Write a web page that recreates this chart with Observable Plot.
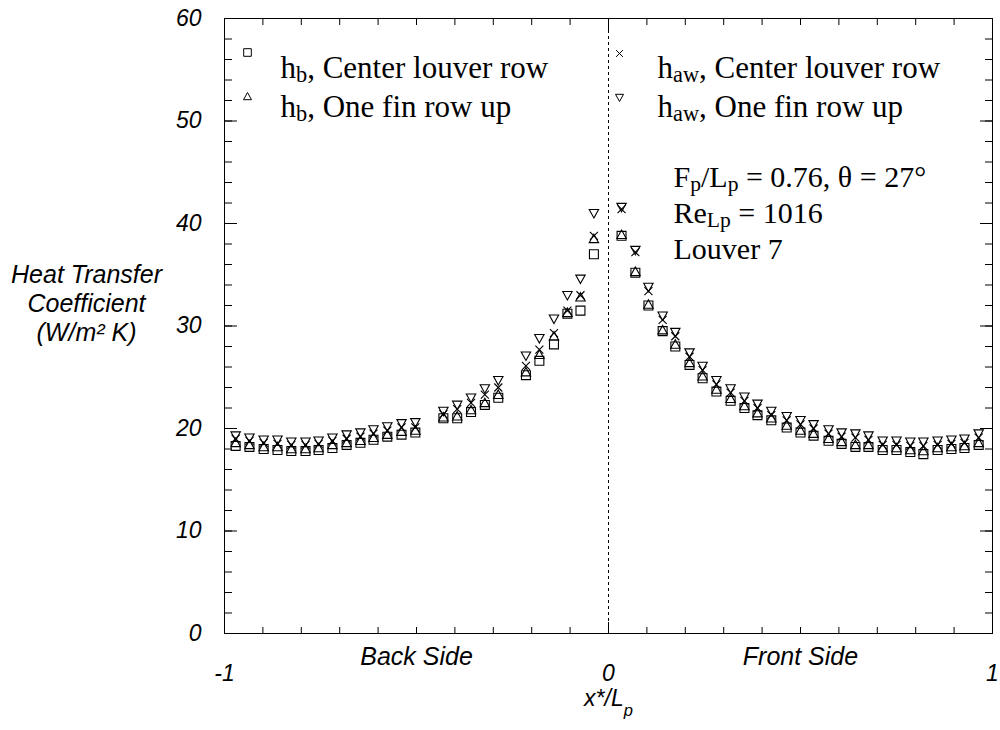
<!DOCTYPE html>
<html>
<head>
<meta charset="utf-8">
<script src="https://cdn.jsdelivr.net/npm/d3@7"></script>
<script src="https://cdn.jsdelivr.net/npm/@observablehq/plot@0.6"></script>
<style>
  html, body { margin: 0; padding: 0; background: #fff; }
  #chart { width: 1000px; height: 730px; }
</style>
</head>
<body>
<div id="chart"></div>
<script>
// ---------------- data ----------------
const xPos = [
  -0.971, -0.935, -0.898, -0.862, -0.826, -0.789, -0.755, -0.719, -0.682, -0.646,
  -0.612, -0.576, -0.539, -0.503, -0.430, -0.394, -0.358, -0.322, -0.287, -0.215,
  -0.180, -0.142, -0.107, -0.073, -0.038,
  0.034, 0.070, 0.104, 0.141, 0.174, 0.211, 0.245, 0.281, 0.318, 0.354,
  0.388, 0.424, 0.464, 0.500, 0.534, 0.573, 0.607, 0.643, 0.677, 0.714,
  0.750, 0.786, 0.820, 0.857, 0.893, 0.927, 0.964
];
// h_b, Center louver row (squares)
const hbCenter = [
  18.3, 18.2, 18.0, 17.9, 17.8, 17.8, 17.9, 18.1, 18.4, 18.6,
  18.9, 19.2, 19.4, 19.6, 21.0, 21.0, 21.6, 22.3, 23.0, 25.2,
  26.6, 28.2, 31.2, 31.5, 37.0,
  38.8, 35.2, 32.0, 29.5, 28.0, 26.2, 24.9, 23.6, 22.7, 22.0,
  21.3, 20.8, 20.1, 19.6, 19.3, 18.8, 18.5, 18.2, 18.2, 17.9,
  17.9, 17.7, 17.5, 17.9, 18.0, 18.1, 18.4
];
// h_b, One fin row up (up triangles)
const hbUp = [
  18.6, 18.4, 18.2, 18.2, 18.0, 18.0, 18.1, 18.4, 18.6, 18.8,
  19.1, 19.4, 19.7, 19.8, 21.1, 21.2, 21.8, 22.5, 23.3, 25.5,
  27.2, 29.0, 31.3, 32.8, 38.5,
  38.9, 35.3, 32.1, 29.6, 28.2, 26.4, 25.1, 23.8, 22.9, 22.2,
  21.5, 21.0, 20.3, 19.8, 19.5, 19.0, 18.7, 18.4, 18.4, 18.1,
  18.1, 17.9, 17.8, 18.1, 18.2, 18.3, 18.6
];
// h_aw, Center louver row (crosses)
const hawCenter = [
  19.0, 18.8, 18.6, 18.5, 18.4, 18.4, 18.5, 18.8, 19.0, 19.2,
  19.5, 19.8, 20.1, 20.1, 21.4, 21.9, 22.5, 23.3, 24.0, 26.1,
  27.7, 29.3, 31.5, 33.0, 38.8,
  41.4, 37.2, 33.4, 30.6, 29.0, 27.0, 25.7, 24.3, 23.5, 22.7,
  22.0, 21.3, 20.8, 20.4, 20.0, 19.5, 19.2, 19.1, 18.9, 18.4,
  18.4, 18.3, 18.3, 18.4, 18.5, 18.6, 19.1
];
// h_aw, One fin row up (down triangles)
const hawUp = [
  19.3, 19.1, 18.9, 18.9, 18.7, 18.7, 18.8, 19.1, 19.4, 19.6,
  19.9, 20.2, 20.5, 20.6, 21.7, 22.3, 23.0, 23.9, 24.7, 27.1,
  28.8, 30.7, 33.0, 34.6, 41.0,
  41.6, 37.4, 33.8, 31.0, 29.4, 27.4, 26.1, 24.7, 23.9, 23.1,
  22.4, 21.7, 21.2, 20.8, 20.4, 19.9, 19.6, 19.5, 19.3, 18.8,
  18.8, 18.7, 18.7, 18.8, 18.9, 19.0, 19.5
];
const seriesLabels = [
  "h_{b}, Center louver row",
  "h_{b}, One fin row up",
  "h_{aw}, Center louver row",
  "h_{aw}, One fin row up"
];
const yTickValues = [0, 10, 20, 30, 40, 50, 60];
const yMinorTicks = [0, 2, 4, 6, 8, 10, 12, 14, 16, 18, 20, 22, 24, 26, 28, 30,
  32, 34, 36, 38, 40, 42, 44, 46, 48, 50, 52, 54, 56, 58, 60];
const xTickValues = [-1, 0, 1];
const xTickText = ["-1", "0", "1"];
const xMinorTicks = [-1, -0.9, -0.8, -0.7, -0.6, -0.5, -0.4, -0.3, -0.2, -0.1, 0,
  0.1, 0.2, 0.3, 0.4, 0.5, 0.6, 0.7, 0.8, 0.9, 1];
const sideLabels = ["Back Side", "Front Side"];
const sidePositions = [-0.5, 0.5];
const zeroLine = [0];
const yTitleLines = ["Heat Transfer", "Coefficient", "(W/m² K)"];
const xTitle = "x*/L_[p]";
const notes = ["F_{p}/L_{p} = 0.76, θ = 27°", "Re_{Lp} = 1016", "Louver 7"];

// ---------------- symbols ----------------
const rOf = s => Math.sqrt(s / Math.PI);
const symSquare = { draw(c, s) { const r = rOf(s) * 0.95; c.rect(-r, -r, 2 * r, 2 * r); } };
const symTriUp = { draw(c, s) { const r = rOf(s); c.moveTo(0, -r); c.lineTo(r, r * 0.8); c.lineTo(-r, r * 0.8); c.closePath(); } };
const symTriDown = { draw(c, s) { const r = rOf(s); c.moveTo(0, r); c.lineTo(r, -r * 0.8); c.lineTo(-r, -r * 0.8); c.closePath(); } };
const symTimes = { draw(c, s) { const r = rOf(s) * 0.85; c.moveTo(-r, -r); c.lineTo(r, r); c.moveTo(r, -r); c.lineTo(-r, r); } };

const series = [
  { values: hbCenter, symbol: symSquare },
  { values: hbUp, symbol: symTriUp },
  { values: hawCenter, symbol: symTimes },
  { values: hawUp, symbol: symTriDown }
];

const SANS = "'Liberation Sans', Arial, sans-serif";
const SERIF = "'Liberation Serif', 'Times New Roman', serif";

const marks = [];

// dashed line at x = 0
marks.push(Plot.ruleX(zeroLine, { x: d => d, stroke: "#000", strokeWidth: 1, strokeDasharray: "3,3" }));

// data points
series.forEach(s => {
  const rows = xPos.map((x, i) => ({ x, y: s.values[i] }));
  marks.push(Plot.dot(rows, { x: "x", y: "y", symbol: s.symbol, r: 4.7, stroke: "#000", fill: "none", strokeWidth: 1.1 }));
});

// inward ticks on all four sides
const tickStyle = { fill: "none", stroke: "#000", label: null };
marks.push(
  Plot.axisY(yMinorTicks, { ...tickStyle, anchor: "right", frameAnchor: "left", tickSize: 7 }),
  Plot.axisY(yTickValues, { ...tickStyle, anchor: "right", frameAnchor: "left", tickSize: 12 }),
  Plot.axisY(yMinorTicks, { ...tickStyle, anchor: "left", frameAnchor: "right", tickSize: 7 }),
  Plot.axisY(yTickValues, { ...tickStyle, anchor: "left", frameAnchor: "right", tickSize: 12 }),
  Plot.axisX(xMinorTicks, { ...tickStyle, anchor: "top", frameAnchor: "bottom", tickSize: 7 }),
  Plot.axisX(xTickValues, { ...tickStyle, anchor: "top", frameAnchor: "bottom", tickSize: 12 }),
  Plot.axisX(xMinorTicks, { ...tickStyle, anchor: "bottom", frameAnchor: "top", tickSize: 7 }),
  Plot.axisX(xTickValues, { ...tickStyle, anchor: "bottom", frameAnchor: "top", tickSize: 12 })
);

// tick labels
marks.push(
  Plot.axisY(yTickValues, { anchor: "left", tickSize: 0, tickPadding: 23, fontSize: 23, fontStyle: "italic",
    fontFamily: SANS, label: null, tickFormat: d => String(d), fill: "#000" }),
  Plot.axisX(xTickValues, { anchor: "bottom", tickSize: 0, tickPadding: 31, fontSize: 23, fontStyle: "italic",
    fontFamily: SANS, label: null, tickFormat: d => xTickText[xTickValues.indexOf(d)], fill: "#000" })
);

// side labels
marks.push(Plot.text(sideLabels, { x: (d, i) => sidePositions[i], text: d => d, frameAnchor: "bottom", dy: 31,
  fontSize: 25, fontStyle: "italic", fontFamily: SANS, fill: "#000" }));

// axis titles
const yTitleDy = [-51, -22, 7];
yTitleLines.forEach((line, i) => {
  marks.push(Plot.text([line], { text: d => d, frameAnchor: "left", dx: -138, dy: yTitleDy[i],
    textAnchor: "middle", fontSize: 25, fontStyle: "italic", fontFamily: SANS, fill: "#000" }));
});
marks.push(Plot.text([xTitle], { text: d => d, frameAnchor: "bottom", dy: 72, textAnchor: "middle",
  fontSize: 23, fontStyle: "italic", fontFamily: SANS, fill: "#000" }));

// legend (inside frame)
const legendSymDx = [23, 23, 395, 395];
const legendSymDy = [34, 78, 35, 79];
const legendTextDx = [56, 56, 433, 433];
const legendTextDy = [37, 76, 37, 76];
seriesLabels.forEach((lab, i) => {
  marks.push(Plot.dot([lab], { frameAnchor: "top-left", dx: legendSymDx[i], dy: legendSymDy[i],
    symbol: series[i].symbol, r: 4.0, stroke: "#000", fill: "none", strokeWidth: 1 }));
  marks.push(Plot.text([lab], { text: d => d, frameAnchor: "top-left", dx: legendTextDx[i], dy: legendTextDy[i],
    textAnchor: "start", fontSize: 31, fontFamily: SERIF, fill: "#000" }));
});

// annotation
const noteDy = [147, 183, 219];
notes.forEach((n, i) => {
  marks.push(Plot.text([n], { text: d => d, frameAnchor: "top-left", dx: 449, dy: noteDy[i],
    textAnchor: "start", fontSize: 30, fontFamily: SERIF, fill: "#000" }));
});

marks.push(Plot.frame({ stroke: "#000", strokeWidth: 1 }));

const plot = Plot.plot({
  width: 1000,
  height: 730,
  marginLeft: 224,
  marginRight: 8,
  marginTop: 18,
  marginBottom: 97,
  x: { domain: [-1, 1], axis: null },
  y: { domain: [0, 60], axis: null },
  style: { fontFamily: SANS, background: "#fff", color: "#000", overflow: "visible" },
  marks
});
document.getElementById("chart").appendChild(plot);

// ---------------- rich text: _{sub}, _[deep sub], ^{sup} ----------------
const NS = "http://www.w3.org/2000/svg";
plot.querySelectorAll("text").forEach(t => {
  const s = t.textContent;
  if (!/[_^][\{\[]/.test(s)) return;
  const fs = parseFloat(getComputedStyle(t).fontSize) || 16;
  while (t.firstChild) t.removeChild(t.firstChild);
  let shift = 0;
  const add = (str, off, small) => {
    const ts = document.createElementNS(NS, "tspan");
    const target = off * fs;
    const dy = target - shift;
    shift = target;
    if (Math.abs(dy) > 0.01) ts.setAttribute("dy", dy.toFixed(2));
    if (small) ts.setAttribute("font-size", (fs * 0.72).toFixed(2));
    ts.textContent = str;
    t.appendChild(ts);
  };
  const re = /_\{([^}]*)\}|_\[([^\]]*)\]|\^\{([^}]*)\}/g;
  let last = 0, m;
  while ((m = re.exec(s))) {
    if (m.index > last) add(s.slice(last, m.index), 0, false);
    if (m[1] !== undefined) add(m[1], 0.14, true);
    else if (m[2] !== undefined) add(m[2], 0.45, true);
    else add(m[3], -0.4, true);
    last = re.lastIndex;
  }
  if (last < s.length) add(s.slice(last), 0, false);
});
</script>
</body>
</html>
